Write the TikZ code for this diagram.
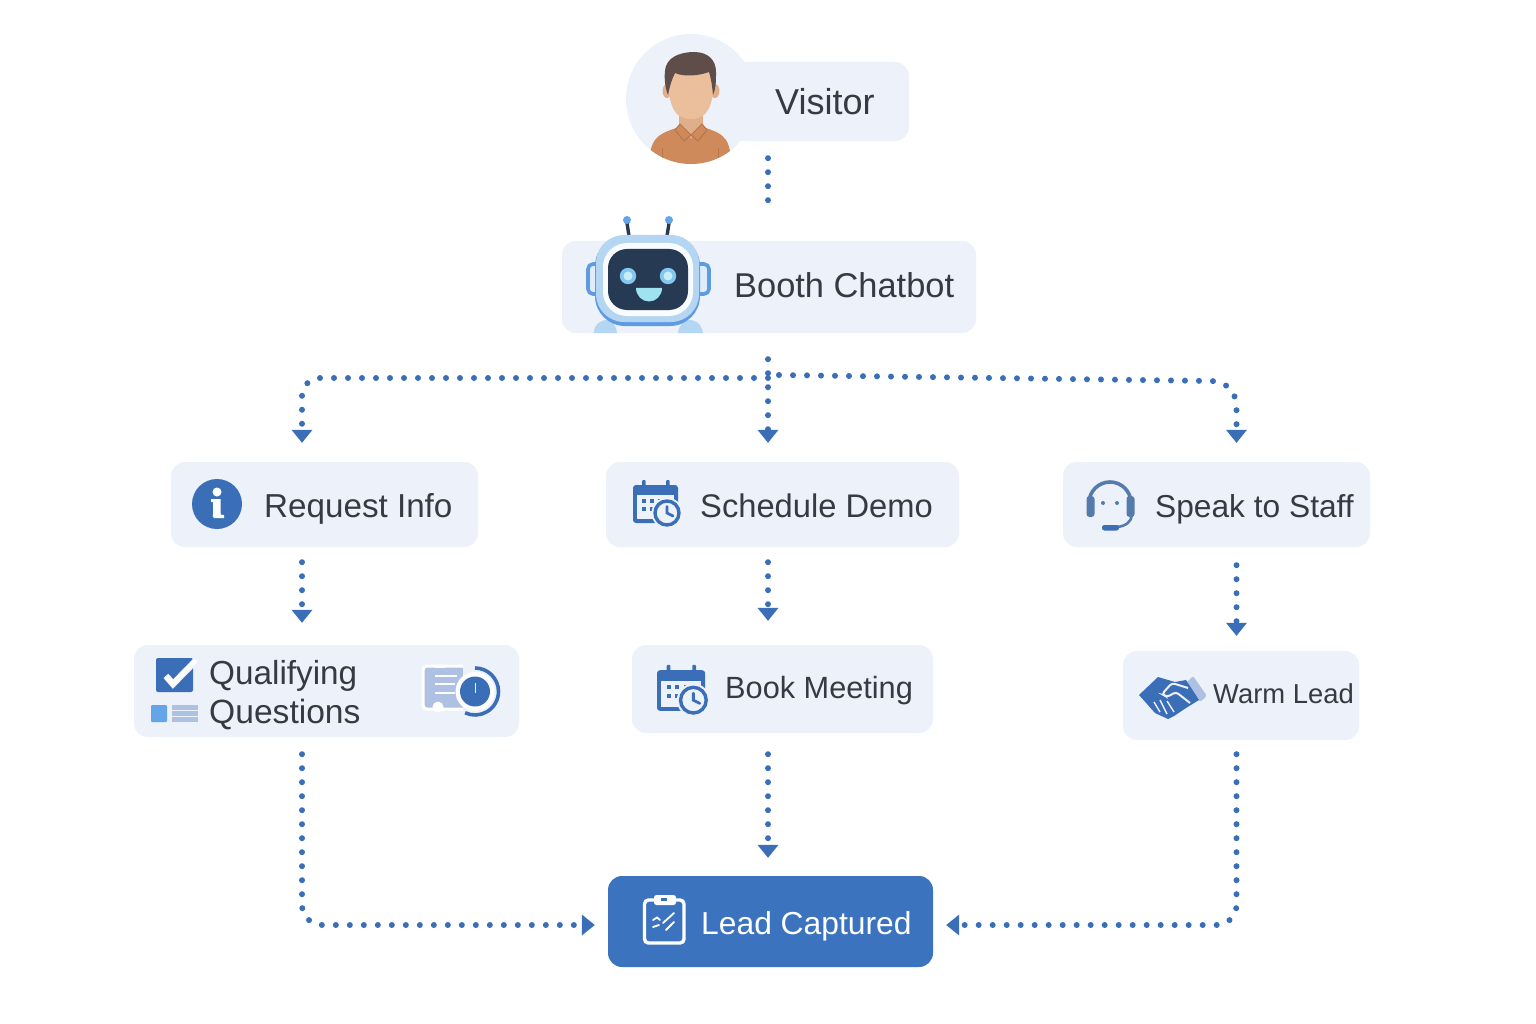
\documentclass[tikz,border=0pt]{standalone}
\usepackage{fontspec}
\setmainfont{Liberation Sans}
\usetikzlibrary{arrows.meta,calc}
\definecolor{panel}{HTML}{EDF1F9}
\definecolor{flowblue}{HTML}{3A6FB8}
\definecolor{deepblue}{HTML}{3B73BF}
\definecolor{inktext}{HTML}{363B42}
\definecolor{skyblue}{HTML}{64A5EA}
\definecolor{paleblue}{HTML}{AFC1E2}
\definecolor{robotdark}{HTML}{263A54}
\definecolor{robotrim}{HTML}{B5D6F2}
\definecolor{robotedge}{HTML}{5F9BE0}
\definecolor{robotglow}{HTML}{9FE3F0}
\definecolor{skin}{HTML}{EBBE9C}
\definecolor{skindark}{HTML}{DFAE8B}
\definecolor{hair}{HTML}{5E4D48}
\definecolor{shirt}{HTML}{CF8A5C}
\definecolor{shirtdark}{HTML}{B8754A}
\definecolor{headset}{HTML}{557BAC}
\tikzset{
  x=1pt,y=-1pt,
  box/.style={rectangle,rounded corners=14pt,fill=panel,draw=none,inner sep=0pt},
  boxtext/.style={anchor=base west,inner sep=0pt,text=inktext},
  flow/.style={draw=flowblue,line width=6pt,line cap=round,dash pattern=on 0pt off 14pt},
  flowtip/.style={flow,-{Triangle[width=21pt,length=13pt,fill=flowblue,line width=0pt]}},
}
% Calendar glyph with a clock badge; origin is the top-left corner of a 45 x 41 sheet
\newcommand{\calglyph}[3]{%
  \begin{scope}[shift={(#1,#2)},scale=#3]
    \fill[flowblue,rounded corners=3pt] (0,3) rectangle (45,41);
    \fill[panel] (4,13) rectangle (41,37);
    \fill[flowblue,rounded corners=1pt] (9,-2) rectangle (12.5,8);
    \fill[flowblue,rounded corners=1pt] (33,-2) rectangle (36.5,8);
    \foreach \px/\py in {9/17,17/17,25/17,9/25,17/25}{
      \fill[flowblue] (\px,\py) rectangle +(4,4);
    }
    \fill[panel] (34,31) circle (15.5);
    \draw[flowblue,line width=3.4pt,fill=panel] (34,31) circle (12);
    \draw[flowblue,line width=2.8pt,line cap=round] (34,24.5) -- (34,31) -- (40,34);
  \end{scope}%
}
\begin{document}
\begin{tikzpicture}
\useasboundingbox (0,0) rectangle (1536,1024);
\fill[white] (0,0) rectangle (1536,1024);

% column positions used by the connectors
\coordinate (colL) at (302,0);
\coordinate (colM) at (768,0);
\coordinate (colR) at (1236.5,0);
\coordinate (rowBus) at (0,378);
\coordinate (rowLead) at (0,925);

% panels
\node[box,minimum width=209pt,minimum height=79pt] (visitor) at (804.5,101.5) {};
\fill[panel] (691,99) circle (65);
\node[box,minimum width=414pt,minimum height=92pt] (chatbot) at (769,287) {};
\node[box,minimum width=307pt,minimum height=85pt] (request) at (324.5,504.5) {};
\node[box,minimum width=353pt,minimum height=85pt] (schedule) at (782.5,504.5) {};
\node[box,minimum width=307pt,minimum height=85pt] (staff) at (1216.5,504.5) {};
\node[box,minimum width=385pt,minimum height=92pt] (qualify) at (326.5,691) {};
\node[box,minimum width=301pt,minimum height=88pt] (book) at (782.5,689) {};
\node[box,minimum width=236pt,minimum height=89pt] (warm) at (1241,695.5) {};
\node[box,fill=deepblue,minimum width=325pt,minimum height=91pt] (lead) at (770.5,921.5) {};

% labels
\node[boxtext,font=\fontsize{36}{40}\selectfont] (tvisitor) at (775,115) {Visitor};
\node[boxtext,font=\fontsize{34.4}{40}\selectfont] (tchatbot) at (734,298) {Booth Chatbot};
\node[boxtext,font=\fontsize{33.2}{40}\selectfont] (trequest) at (264,517) {Request Info};
\node[boxtext,font=\fontsize{32.7}{40}\selectfont] (tschedule) at (700,517) {Schedule Demo};
\node[boxtext,font=\fontsize{31.7}{40}\selectfont] (tstaff) at (1155,517) {Speak to Staff};
\node[boxtext,font=\fontsize{33.3}{40}\selectfont] (tqual1) at (209,684) {Qualifying};
\node[boxtext,font=\fontsize{33.6}{40}\selectfont] (tqual2) at (209,723) {Questions};
\node[boxtext,font=\fontsize{30.7}{36}\selectfont] (tbook) at (725,698) {Book Meeting};
\node[boxtext,font=\fontsize{27.4}{36}\selectfont] (twarm) at (1213,703) {Warm Lead};
\node[boxtext,font=\fontsize{31.8}{40}\selectfont,text=white] (tlead) at (701,934) {Lead Captured};

% connectors
\draw[flow,shorten <=17pt,shorten >=37pt] (visitor.south -| colM) -- (chatbot.north -| colM);
\draw[flowtip,shorten <=26pt,shorten >=19pt] (chatbot.south -| colM) -- (schedule.north -| colM);
\draw[flowtip,shorten >=19pt,rounded corners=18pt] (colM |- rowBus) -- (colL |- rowBus) -- (request.north -| colL);
\coordinate (busEast) at (1210,381);
\coordinate (busDrop) at (1236.5,408);
\draw[flowtip,shorten >=19pt] ($(colM |- rowBus)+(11,-3)$) -- (busEast) .. controls (1226,381) and (1236.5,391) .. (busDrop) -- (staff.north -| colR);
\draw[flowtip,shorten <=15pt,shorten >=22pt] (request.south -| colL) -- (qualify.north -| colL);
\draw[flowtip,shorten <=15pt,shorten >=24pt] (schedule.south -| colM) -- (book.north -| colM);
\draw[flowtip,shorten <=18pt,shorten >=15pt] (staff.south -| colR) -- (warm.north -| colR);
\draw[flowtip,shorten <=17pt,shorten >=13pt,rounded corners=20pt] (qualify.south -| colL) -- (colL |- rowLead) -- (lead.west |- rowLead);
\draw[flowtip,shorten <=21pt,shorten >=18pt] (book.south -| colM) -- (lead.north -| colM);
\draw[flowtip,shorten <=14pt,shorten >=13pt,rounded corners=20pt] (warm.south -| colR) -- (colR |- rowLead) -- (lead.east |- rowLead);

% visitor portrait, kept inside the round panel
\begin{scope}
  \clip (691,99) circle (65);
  \fill[shirt] (649,170) .. controls (649,140) and (655,134) .. (680,127) -- (702,127) .. controls (727,134) and (731,140) .. (731,170) -- cycle;
  \fill[shirtdark] (662,148) rectangle (663.2,170);
  \fill[shirtdark] (718,148) rectangle (719.2,170);
  \fill[skindark] (679,108) rectangle (703,128);
  \fill[skindark] (679,124) -- (691,139) -- (703,124) -- cycle;
  \draw[shirtdark,line width=1pt,fill=shirt] (680,124) -- (675,130) -- (684,141) -- (691,135) -- cycle;
  \draw[shirtdark,line width=1pt,fill=shirt] (702,124) -- (707,130) -- (698,141) -- (691,135) -- cycle;
  \fill[skindark] (667,91) ellipse (4.5 and 7);
  \fill[skindark] (715,91) ellipse (4.5 and 7);
  \fill[skin] (668,72) .. controls (668,102) and (672,119) .. (691,119) .. controls (710,119) and (714,102) .. (714,72) -- cycle;
  \fill[hair] (668,95) .. controls (664,85) and (664,72) .. (666,66) .. controls (670,55) and (684,52) .. (694,52) .. controls (708,52) and (716,60) .. (716,72) .. controls (716,82) and (716,88) .. (713,95) .. controls (712,85) and (711,78) .. (709,72) .. controls (698,76) and (684,77) .. (675,73) .. controls (672,79) and (670,85) .. (668,95) -- cycle;
\end{scope}

% chatbot mascot
\draw[robotdark,line width=3.4pt] (627,223) -- (629,236);
\draw[robotdark,line width=3.4pt] (669,223) -- (667,236);
\fill[skyblue] (627,220) circle (4);
\fill[skyblue] (669,220) circle (4);
\draw[robotedge,line width=3.6pt,fill=robotrim!45!white,rounded corners=5pt] (597,264) -- (588,264) -- (588,294) -- (597,294);
\draw[robotedge,line width=3.6pt,fill=robotrim!45!white,rounded corners=5pt] (699,264) -- (709,264) -- (709,294) -- (699,294);
\fill[robotrim] (593.5,333) .. controls (595,322) and (603,320) .. (607,320) .. controls (612,320) and (616,325) .. (617,333) -- cycle;
\fill[robotrim] (678,333) .. controls (679,325) and (684,320) .. (689,320) .. controls (694,320) and (701,322) .. (703,333) -- cycle;
\fill[robotedge,rounded corners=30pt] (595,236) rectangle (700,326);
\fill[robotrim,rounded corners=28pt] (596,235) rectangle (699,322);
\fill[white!92!robotrim,rounded corners=24pt] (603,243) rectangle (693,316);
\fill[robotdark,rounded corners=19pt] (608,249) rectangle (688,310);
\fill[robotglow!55!skyblue] (628,276) circle (8.2);
\fill[robotglow!55!skyblue] (668,276) circle (8.2);
\fill[robotglow!60!white] (628,276) circle (4.5);
\fill[robotglow!60!white] (668,276) circle (4.5);
\fill[robotglow] (636,288) -- (662,288) arc (0:180:13 and 13.5) -- cycle;

% info badge
\fill[flowblue] (217,504) circle (25);
\fill[white] (217,492) circle (4.5);
\fill[white] (211,499) -- (220.5,499) -- (220.5,513) .. controls (220.5,515) and (221.5,515.5) .. (224,515) -- (224,518) -- (214,518) .. controls (212.5,518) and (213,516) .. (213,514) -- (213,502) -- (211,502) -- cycle;

% question list icons
\fill[flowblue,rounded corners=2pt] (156,658) rectangle (193,692);
\draw[panel,line width=6.5pt] (166,676) -- (173,684) -- (197,659.5);
\draw[white,line width=4.5pt] (166,676) -- (173,684) -- (196,660);
\fill[skyblue,rounded corners=1pt] (151,705) rectangle (167,722);
\fill[paleblue] (172,705) rectangle (198,722);
\draw[panel,line width=1.4pt] (172,710.5) -- (198,710.5) (172,716.5) -- (198,716.5);
\fill[paleblue] (423,666) rectangle (463,709);
\draw[white,line width=3pt,rounded corners=4pt] (463,666) -- (423,666) -- (423,709) -- (463,709);
\fill[white] (438,707) circle (5.5);
\fill[white] (435,665) rectangle (445,668);
\draw[white,line width=1.7pt] (435,676) -- (457,676) (435,684) -- (455,684) (435,693) -- (455,693);
\draw[flowblue,line width=3.6pt] (475,668) arc (-90:115:23.5);
\fill[white] (475,691.5) circle (19.5);
\fill[flowblue] (475,691.5) circle (15);
\draw[panel,line width=.8pt] (475,683) -- (475,693);

% calendars
\calglyph{633}{482}{1}
\calglyph{657}{667}{1.07}

% headset
\draw[headset,line width=3.6pt] (1089,503) arc (180:360:21);
\fill[headset,rounded corners=3pt] (1086.5,496) rectangle (1094.5,517);
\fill[headset,rounded corners=3pt] (1126.5,496) rectangle (1134.5,517);
\draw[headset,line width=2.6pt] (1132,515) .. controls (1131,522) and (1126,526) .. (1117,527);
\fill[flowblue,rounded corners=2.4pt] (1102,525) rectangle (1119,530.5);
\fill[headset] (1103,503) circle (2);
\fill[headset] (1117,503) circle (2);

% handshake
\fill[paleblue,rounded corners=2pt] (1186,683) -- (1193,676) -- (1207,696) -- (1200,702) -- cycle;
\fill[flowblue] (1139,695) -- (1158,677) -- (1175,682) -- (1186,680) -- (1199,700) -- (1186,708) -- (1174,716) -- (1168,719) -- (1155,713) -- cycle;
\draw[panel,line width=2pt,rounded corners=3pt] (1188,688) -- (1172,683) -- (1162,694) -- (1167,697) -- (1176,692) -- (1190,703);
\draw[panel,line width=1.4pt] (1154,702) -- (1160,712) (1160,700) -- (1167,714) (1167,701) -- (1174,712);

% clipboard
\draw[white,line width=3.4pt,rounded corners=4pt] (654,900) -- (644.5,900) -- (644.5,943) -- (684,943) -- (684,900) -- (676,900);
\fill[white,rounded corners=2.5pt] (654,895) rectangle (676,905);
\fill[flowblue] (661,897.5) rectangle (667,900.5);
\draw[white,line width=1.8pt,line cap=round] (653,920) -- (657,917.5) -- (660,920);
\draw[white,line width=1.8pt,line cap=round] (653,927) -- (659,925);
\draw[white,line width=1.8pt,line cap=round] (663,923) -- (674,913);
\draw[white,line width=1.8pt,line cap=round] (666,930) -- (674,922);
\end{tikzpicture}
\end{document}
